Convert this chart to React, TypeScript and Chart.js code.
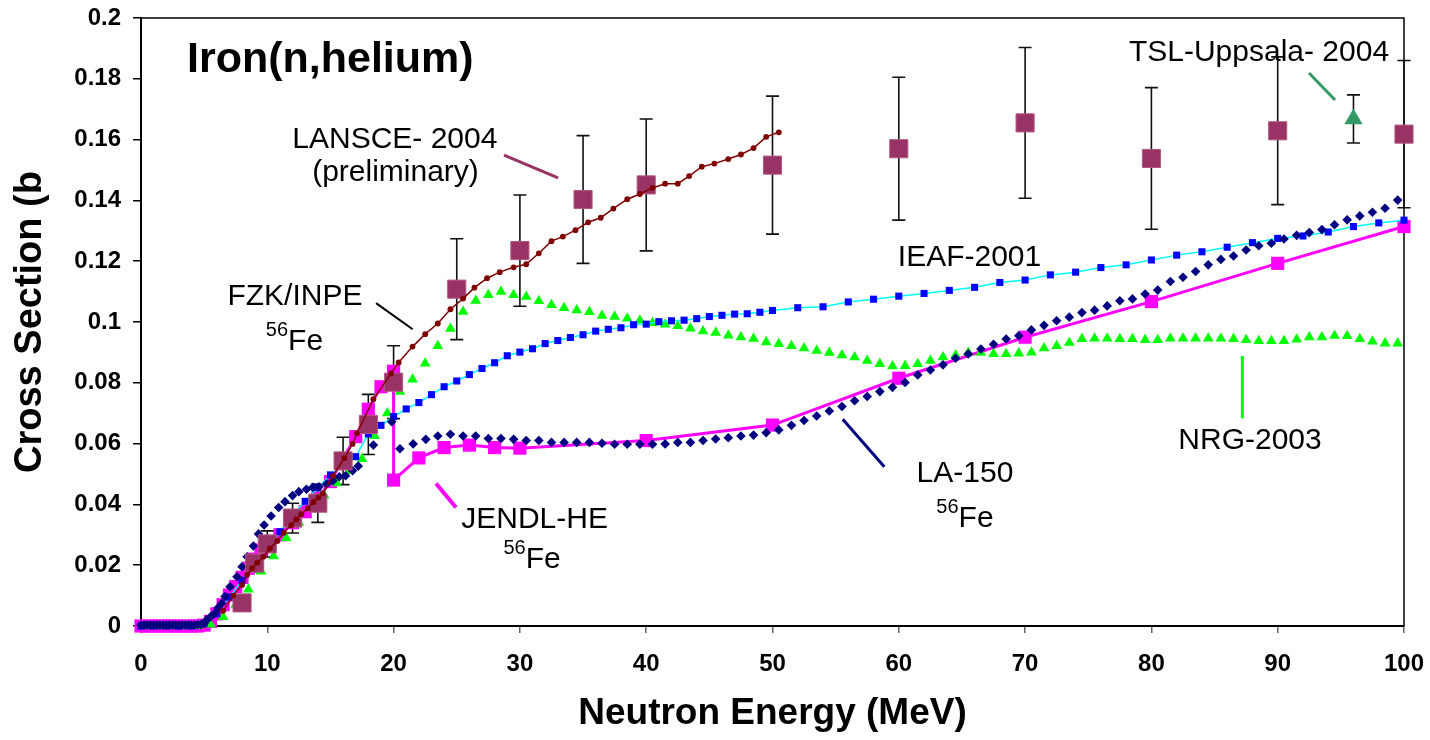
import React, { useEffect, useRef } from 'react';
import { Chart, registerables } from 'chart.js';

Chart.register(...registerables);

const FONT = '"Liberation Sans", Arial, Helvetica, sans-serif';

// ---------- axes ----------
const X_TICKS = [0, 10, 20, 30, 40, 50, 60, 70, 80, 90, 100];
const Y_TICKS = [0, 0.02, 0.04, 0.06, 0.08, 0.1, 0.12, 0.14, 0.16, 0.18, 0.2];
const X_TITLE = 'Neutron Energy (MeV)';
const Y_TITLE = 'Cross Section (b';
const CHART_TITLE = 'Iron(n,helium)';

// ---------- series: [energy MeV, cross section b] ----------
const LA150: [number, number][] = [
  [0, 0.0003], [0.25, 0.0003], [0.5, 0.0003], [0.75, 0.0003], [1, 0.0003], [1.25, 0.0003], [1.5, 0.0003],
  [1.75, 0.0003], [2, 0.0003], [2.25, 0.0003], [2.5, 0.0003], [2.75, 0.0003], [3, 0.0003], [3.25, 0.0003],
  [3.5, 0.0003], [3.75, 0.0003], [4, 0.0003], [4.25, 0.0003], [4.5, 0.0004], [4.75, 0.0005], [5, 0.0008],
  [5.2, 0.002], [5.5, 0.003], [5.85, 0.0042], [6.1, 0.006], [6.4, 0.0075], [6.65, 0.0097], [7.05, 0.0129],
  [7.6, 0.0162], [8.0, 0.0195], [8.4, 0.0228], [8.9, 0.0263], [9.3, 0.0303], [9.75, 0.0332], [10.3, 0.0362],
  [10.9, 0.039], [11.4, 0.0409], [12.0, 0.0429], [12.5, 0.0442], [13.1, 0.045], [13.6, 0.0456], [14.1, 0.0458],
  [14.7, 0.0467], [15.2, 0.0478], [15.7, 0.0491], [16.2, 0.0494], [16.75, 0.0511], [17.2, 0.0526],
  [18.4, 0.0595], [19.85, 0.0672], [20.5, 0.0583], [21.55, 0.0599], [22.55, 0.0614], [23.5, 0.0625],
  [24.5, 0.0631], [25.5, 0.0625], [26.5, 0.0625], [27.5, 0.0617], [28.5, 0.0617], [29.5, 0.0614],
  [30.5, 0.061], [31.5, 0.061], [32.5, 0.0604], [33.5, 0.0604], [34.5, 0.0604], [35.5, 0.0604],
  [36.5, 0.0601], [37.5, 0.0598], [38.5, 0.0598], [39.5, 0.0598], [40.5, 0.0598], [41.5, 0.0599],
  [42.5, 0.0604], [43.5, 0.0604], [44.5, 0.061], [45.5, 0.0615], [46.5, 0.0619], [47.5, 0.0625],
  [48.5, 0.0628], [49.5, 0.0636], [50.5, 0.0645], [51.5, 0.066], [52.5, 0.0676], [53.5, 0.0691],
  [54.5, 0.0707], [55.5, 0.0722], [56.5, 0.0741], [57.5, 0.0755], [58.5, 0.0771], [59.5, 0.0785],
  [60.5, 0.0801], [61.5, 0.0826], [62.5, 0.0842], [63.5, 0.0859], [64.5, 0.0881], [65.5, 0.0895],
  [66.5, 0.0911], [67.5, 0.0927], [68.5, 0.0944], [69.5, 0.0955], [70.5, 0.0974], [71.5, 0.0989],
  [72.5, 0.1004], [73.5, 0.1016], [74.5, 0.1031], [75.5, 0.1039], [76.5, 0.1053], [77.5, 0.107],
  [78.5, 0.1076], [79.5, 0.1092], [80.5, 0.1105], [81.5, 0.1133], [82.5, 0.1147], [83.5, 0.1166],
  [84.5, 0.1188], [85.5, 0.1206], [86.5, 0.1217], [87.5, 0.1237], [88.5, 0.1251], [89.5, 0.1259],
  [90.5, 0.1273], [91.5, 0.1285], [92.5, 0.1294], [93.5, 0.1304], [94.5, 0.132], [95.5, 0.1336],
  [96.5, 0.1349], [97.5, 0.1361], [98.5, 0.1374], [99.5, 0.1401],
];

const JENDL: [number, number][] = [
  [0, 0], [0.5, 0], [1, 0], [1.5, 0], [2, 0], [2.5, 0], [3, 0], [3.5, 0], [4, 0], [4.5, 0], [5, 0.0003],
  [5.5, 0.0015], [6, 0.004], [6.5, 0.007], [7, 0.0102], [7.5, 0.013], [8, 0.016], [8.5, 0.019], [9, 0.022],
  [9.5, 0.025], [10, 0.027], [11, 0.03], [12, 0.034], [13, 0.0376], [14, 0.042], [15, 0.0475], [16, 0.055],
  [17, 0.0623], [18, 0.0713], [19, 0.0787], [20, 0.0838], [20, 0.048], [22, 0.0553], [24, 0.0587],
  [26, 0.0595], [28, 0.0587], [30, 0.0585], [40, 0.061], [50, 0.0661], [60, 0.0815], [70, 0.095],
  [80, 0.1067], [90, 0.1193], [100, 0.1314],
];

const IEAF: [number, number][] = [
  [0, 0], [1, 0], [2, 0], [3, 0], [4, 0], [5, 0.0008], [6, 0.004], [7, 0.0095], [8, 0.015], [9, 0.021],
  [10, 0.026], [11, 0.031], [12, 0.0365], [13, 0.041], [14, 0.0455], [15, 0.0497], [16, 0.0527], [17, 0.0557],
  [18, 0.0632], [19, 0.066], [20, 0.0689], [21, 0.0714], [22, 0.0735], [23, 0.0761], [24, 0.0787],
  [25, 0.0806], [26, 0.0827], [27, 0.0847], [28, 0.0866], [29, 0.0889], [30, 0.0901], [31, 0.0912],
  [32, 0.0929], [33, 0.0939], [34, 0.0949], [35, 0.0958], [36, 0.097], [37, 0.0976], [38, 0.0981],
  [39, 0.0991], [40, 0.0993], [41, 0.1001], [42, 0.1004], [43, 0.1006], [44, 0.1011], [45, 0.1018],
  [46, 0.1022], [47, 0.1026], [48, 0.1027], [49, 0.1032], [50, 0.1038], [52, 0.1047], [54, 0.105],
  [56, 0.1066], [58, 0.1075], [60, 0.1085], [62, 0.1094], [64, 0.1104], [66, 0.1114], [68, 0.113],
  [70, 0.1138], [72, 0.1155], [74, 0.1164], [76, 0.1179], [78, 0.1188], [80, 0.1204], [82, 0.122],
  [84, 0.1231], [86, 0.1246], [88, 0.1261], [90, 0.1275], [92, 0.1283], [94, 0.1296], [96, 0.1314],
  [98, 0.1326], [100, 0.1335],
];

const NRG: [number, number][] = [
  [0.5, 0], [1.5, 0], [2.5, 0], [3.5, 0], [4.5, 0], [5.5, 0.0005], [6.5, 0.003], [7.5, 0.007], [8.5, 0.012],
  [9.5, 0.018], [10.5, 0.023], [11.5, 0.029], [12.5, 0.034], [13.5, 0.039], [14.5, 0.043], [15.5, 0.047],
  [16.5, 0.051], [17.5, 0.055], [18.5, 0.0625], [19.5, 0.07], [20.5, 0.0771], [21.5, 0.0811], [22.5, 0.0864],
  [23.5, 0.0921], [24.5, 0.0978], [25.5, 0.1034], [26.5, 0.107], [27.5, 0.1089], [28.5, 0.11],
  [29.5, 0.1089], [30.5, 0.1083], [31.5, 0.1069], [32.5, 0.1056], [33.5, 0.1046], [34.5, 0.1039],
  [35.5, 0.1033], [36.5, 0.1021], [37.5, 0.1018], [38.5, 0.1012], [39.5, 0.1005], [40.5, 0.0997],
  [41.5, 0.0992], [42.5, 0.0987], [43.5, 0.0979], [44.5, 0.097], [45.5, 0.0965], [46.5, 0.0956],
  [47.5, 0.095], [48.5, 0.0945], [49.5, 0.0934], [50.5, 0.0928], [51.5, 0.0921], [52.5, 0.0914],
  [53.5, 0.0906], [54.5, 0.0899], [55.5, 0.0891], [56.5, 0.0884], [57.5, 0.0873], [58.5, 0.0862],
  [59.5, 0.0855], [60.5, 0.0856], [61.5, 0.0862], [62.5, 0.0873], [63.5, 0.0884], [64.5, 0.0891],
  [65.5, 0.0899], [66.5, 0.0899], [67.5, 0.0895], [68.5, 0.0895], [69.5, 0.0897], [70.5, 0.09],
  [71.5, 0.0914], [72.5, 0.0921], [73.5, 0.0932], [74.5, 0.0944], [75.5, 0.0946], [76.5, 0.0946],
  [77.5, 0.0944], [78.5, 0.0944], [79.5, 0.0941], [80.5, 0.0941], [81.5, 0.0946], [82.5, 0.0946],
  [83.5, 0.0946], [84.5, 0.0946], [85.5, 0.0946], [86.5, 0.0944], [87.5, 0.0941], [88.5, 0.0938],
  [89.5, 0.0938], [90.5, 0.0938], [91.5, 0.0943], [92.5, 0.095], [93.5, 0.095], [94.5, 0.0955],
  [95.5, 0.0954], [96.5, 0.0944], [97.5, 0.0936], [98.5, 0.093], [99.5, 0.093],
];

const FZK: [number, number][] = [
  [6.5, 0.005], [7.3, 0.01], [8.0, 0.0135], [8.4, 0.0168], [8.8, 0.019], [9.2, 0.0208], [9.7, 0.0228],
  [10.2, 0.0255], [10.8, 0.028], [11.3, 0.0307], [11.9, 0.0332], [12.3, 0.0351], [12.7, 0.0368],
  [13.2, 0.0387], [13.65, 0.0407], [14.05, 0.0423], [14.4, 0.0436], [15.2, 0.0494], [16.1, 0.0552],
  [16.75, 0.0599], [17.1, 0.0634], [18.4, 0.0746], [19.8, 0.0831], [20.4, 0.0867], [21.5, 0.0919],
  [22.5, 0.096], [23.5, 0.0995], [24.5, 0.1042], [25.5, 0.1077], [26.4, 0.1113], [27.4, 0.1144],
  [28.4, 0.1164], [29.5, 0.118], [30.5, 0.119], [31.5, 0.1226], [32.5, 0.1266], [33.4, 0.1281],
  [34.4, 0.1302], [35.4, 0.1328], [36.4, 0.1343], [37.4, 0.1373], [38.5, 0.1404], [39.5, 0.1421],
  [40.5, 0.1441], [41.5, 0.1455], [42.5, 0.1455], [43.4, 0.148], [44.4, 0.1511], [45.4, 0.1521],
  [46.5, 0.1536], [47.5, 0.1551], [48.5, 0.1572], [49.5, 0.1609], [50.5, 0.1624],
];

// [energy, cross section, error]
const LANSCE: [number, number, number][] = [
  [8, 0.0076, 0.002], [9, 0.0207, 0.003], [10, 0.027, 0.0043], [12, 0.0355, 0.0049], [14, 0.0404, 0.0063],
  [16, 0.0543, 0.0078], [18, 0.0663, 0.0099], [20, 0.0802, 0.012], [25, 0.1108, 0.0166],
  [30, 0.1235, 0.0183], [35, 0.1403, 0.021], [40, 0.1451, 0.0217], [50, 0.1516, 0.0227],
  [60, 0.157, 0.0235], [70, 0.1655, 0.0248], [80, 0.1538, 0.0233], [90, 0.1629, 0.0243],
  [100, 0.1618, 0.0242],
];

const TSL: [number, number, number][] = [[96, 0.1668, 0.0079]];

// ---------- annotations (data units) ----------
const NOTES = [
  { text: 'LANSCE- 2004', e: 20.1, xs: 0.1605 },
  { text: '(preliminary)', e: 20.15, xs: 0.1496 },
  { text: 'FZK/INPE', e: 12.19, xs: 0.1088 },
  { text: 'IEAF-2001', e: 65.6, xs: 0.1218 },
  { text: 'JENDL-HE', e: 31.16, xs: 0.0355 },
  { text: 'LA-150', e: 65.24, xs: 0.0506 },
  { text: 'NRG-2003', e: 87.81, xs: 0.0616 },
  { text: 'TSL-Uppsala- 2004', e: 88.52, xs: 0.189 },
];
const ISOTOPE_NOTES = [
  { mass: '56', sym: 'Fe', e: 12.15, xs: 0.0943 },
  { mass: '56', sym: 'Fe', e: 30.96, xs: 0.0224 },
  { mass: '56', sym: 'Fe', e: 65.24, xs: 0.036 },
];
const TITLE_POS = { e: 3.64, xs: 0.1872 };
const LEADERS = [
  { e1: 28.74, y1: 0.1549, e2: 33.02, y2: 0.1474, color: '#993366', w: 3 },
  { e1: 18.61, y1: 0.1062, e2: 21.51, y2: 0.0976, color: '#000000', w: 2 },
  { e1: 23.36, y1: 0.0469, e2: 24.94, y2: 0.039, color: '#FF00FF', w: 4 },
  { e1: 55.56, y1: 0.068, e2: 58.85, y2: 0.0524, color: '#000080', w: 3 },
  { e1: 87.2, y1: 0.0888, e2: 87.2, y2: 0.0683, color: '#00FF00', w: 3 },
  { e1: 92.48, y1: 0.1819, e2: 94.54, y2: 0.173, color: '#339966', w: 3 },
];

const NOTE_SIZE = 30;

const toXY = (arr: number[][]) => arr.map((p) => ({ x: p[0], y: p[1] }));

const framePlugin = {
  id: 'frameAndErrors',
  beforeDatasetsDraw(chart: any) {
    const { ctx, chartArea, scales } = chart;
    const x = scales.x;
    const y = scales.y;
    ctx.save();
    ctx.strokeStyle = '#000';
    ctx.lineWidth = 1.5;
    ctx.beginPath();
    ctx.moveTo(chartArea.left, chartArea.top);
    ctx.lineTo(chartArea.right, chartArea.top);
    ctx.lineTo(chartArea.right, chartArea.bottom);
    ctx.stroke();
    // error bars
    ctx.lineWidth = 1.6;
    ctx.strokeStyle = '#111';
    const cap = 6.5;
    for (const [e, v, err] of [...LANSCE, ...TSL]) {
      const px = x.getPixelForValue(e);
      const top = y.getPixelForValue(v + err);
      const bot = y.getPixelForValue(v - err);
      ctx.beginPath();
      ctx.moveTo(px, top);
      ctx.lineTo(px, bot);
      ctx.moveTo(px - cap, top);
      ctx.lineTo(px + cap, top);
      ctx.moveTo(px - cap, bot);
      ctx.lineTo(px + cap, bot);
      ctx.stroke();
    }
    ctx.restore();
  },
  afterDatasetsDraw(chart: any) {
    const { ctx, scales } = chart;
    const x = scales.x;
    const y = scales.y;
    ctx.save();
    // leader lines
    for (const l of LEADERS) {
      ctx.strokeStyle = l.color;
      ctx.lineWidth = l.w;
      ctx.beginPath();
      ctx.moveTo(x.getPixelForValue(l.e1), y.getPixelForValue(l.y1));
      ctx.lineTo(x.getPixelForValue(l.e2), y.getPixelForValue(l.y2));
      ctx.stroke();
    }
    ctx.fillStyle = '#000';
    ctx.textBaseline = 'alphabetic';
    // title
    ctx.font = `bold 43px ${FONT}`;
    ctx.textAlign = 'left';
    ctx.fillText(CHART_TITLE, x.getPixelForValue(TITLE_POS.e), y.getPixelForValue(TITLE_POS.xs) + 0.358 * 42);
    // notes
    ctx.font = `${NOTE_SIZE}px ${FONT}`;
    ctx.textAlign = 'center';
    for (const n of NOTES) {
      ctx.fillText(n.text, x.getPixelForValue(n.e), y.getPixelForValue(n.xs) + 0.358 * 28);
    }
    // isotope labels with superscript
    ctx.textAlign = 'left';
    for (const n of ISOTOPE_NOTES) {
      const supSize = 20;
      ctx.font = `${supSize}px ${FONT}`;
      const wSup = ctx.measureText(n.mass).width;
      ctx.font = `${NOTE_SIZE}px ${FONT}`;
      const wSym = ctx.measureText(n.sym).width;
      const cx = x.getPixelForValue(n.e);
      const base = y.getPixelForValue(n.xs) + 0.358 * 29;
      const left = cx - (wSup + wSym) / 2;
      ctx.font = `${supSize}px ${FONT}`;
      ctx.fillText(n.mass, left, base - 14);
      ctx.font = `${NOTE_SIZE}px ${FONT}`;
      ctx.fillText(n.sym, left + wSup, base);
    }
    ctx.restore();
  },
};

const zeroPad = (axis: any) => {
  axis.paddingTop = 0;
  axis.paddingBottom = 0;
  axis.paddingLeft = 0;
  axis.paddingRight = 0;
};

export default function App() {
  const ref = useRef<HTMLCanvasElement>(null);

  useEffect(() => {
    if (!ref.current) return;
    Chart.defaults.font.family = FONT;
    const chart = new Chart(ref.current, {
      type: 'scatter',
      data: {
        datasets: [
          {
            label: 'TSL-Uppsala- 2004',
            data: toXY(TSL),
            pointStyle: 'triangle',
            pointRadius: 10.5,
            backgroundColor: '#339966',
            borderColor: '#339966',
            borderWidth: 0,
            showLine: false,
            order: 0,
            clip: false,
          } as any,
          {
            label: 'FZK/INPE',
            data: toXY(FZK),
            pointStyle: 'circle',
            pointRadius: 2.9,
            pointBackgroundColor: '#800000',
            pointBorderColor: '#800000',
            pointBorderWidth: 0,
            borderColor: '#800000',
            borderWidth: 1.5,
            showLine: true,
            order: 1,
            clip: false,
          },
          {
            label: 'LANSCE- 2004',
            data: toXY(LANSCE),
            pointStyle: 'rect',
            pointRadius: 12.8,
            backgroundColor: '#993366',
            borderColor: '#b0587f',
            borderWidth: 1,
            showLine: false,
            order: 2,
            clip: false,
          },
          {
            label: 'LA-150',
            data: toXY(LA150),
            pointStyle: 'rectRot',
            pointRadius: 4.8,
            backgroundColor: '#000080',
            borderColor: '#000080',
            borderWidth: 0,
            showLine: false,
            order: 3,
            clip: false,
          },
          {
            label: 'IEAF-2001',
            data: toXY(IEAF),
            pointStyle: 'rect',
            pointRadius: 5,
            pointBackgroundColor: '#0000FF',
            pointBorderColor: '#0000FF',
            pointBorderWidth: 0,
            borderColor: '#00FFFF',
            borderWidth: 1.5,
            showLine: true,
            order: 4,
            clip: false,
          },
          {
            label: 'NRG-2003',
            data: toXY(NRG),
            pointStyle: 'triangle',
            pointRadius: 6.2,
            backgroundColor: '#00FF00',
            borderColor: '#00FF00',
            borderWidth: 0,
            showLine: false,
            order: 5,
            clip: false,
          },
          {
            label: 'JENDL-HE',
            data: toXY(JENDL),
            pointStyle: 'rect',
            pointRadius: 9.3,
            pointBackgroundColor: '#FF00FF',
            pointBorderColor: '#FF00FF',
            pointBorderWidth: 0,
            borderColor: '#FF00FF',
            borderWidth: 3,
            showLine: true,
            order: 6,
            clip: false,
          },
        ],
      },
      options: {
        animation: false,
        responsive: true,
        maintainAspectRatio: false,
        layout: { padding: { top: 18, right: 26, left: 0, bottom: 0 } },
        plugins: {
          legend: { display: false },
          tooltip: { enabled: false },
        },
        scales: {
          x: {
            type: 'linear',
            position: 'bottom',
            min: 0,
            max: 100,
            afterBuildTicks: (axis: any) => {
              axis.ticks = X_TICKS.map((v) => ({ value: v }));
            },
            afterFit: (axis: any) => {
              axis.height = 114;
              zeroPad(axis);
            },
            ticks: {
              autoSkip: false,
              maxRotation: 0,
              padding: 17,
              color: '#000',
              font: { family: FONT, size: 24, weight: 'bold' },
              callback: (v: any) => String(v),
            },
            grid: {
              display: true,
              drawOnChartArea: false,
              drawTicks: true,
              tickLength: 7,
              color: '#666',
              lineWidth: 1.5,
            },
            border: { display: true, color: '#000', width: 2 },
            title: {
              display: true,
              text: X_TITLE,
              color: '#000',
              font: { family: FONT, size: 37, weight: 'bold' },
              padding: { top: 0, bottom: 4 },
            },
          },
          y: {
            type: 'linear',
            position: 'left',
            min: 0,
            max: 0.2,
            afterBuildTicks: (axis: any) => {
              axis.ticks = Y_TICKS.map((v) => ({ value: v }));
            },
            afterFit: (axis: any) => {
              axis.width = 141;
              zeroPad(axis);
            },
            ticks: {
              autoSkip: false,
              padding: 12,
              color: '#000',
              font: { family: FONT, size: 24, weight: 'bold' },
              callback: (v: any) => String(Number(Number(v).toFixed(3))),
            },
            grid: {
              display: true,
              drawOnChartArea: false,
              drawTicks: true,
              tickLength: 8,
              color: '#000',
              lineWidth: 1.5,
            },
            border: { display: true, color: '#000', width: 2 },
            title: {
              display: true,
              text: Y_TITLE,
              color: '#000',
              font: { family: FONT, size: 38, weight: 'bold' },
              padding: { top: 8, bottom: 0 },
            },
          },
        },
      },
      plugins: [framePlugin],
    } as any);
    return () => chart.destroy();
  }, []);

  return (
    <div style={{ position: 'fixed', left: 0, top: 0, width: 1430, height: 740, background: '#fff' }}>
      <canvas ref={ref} />
    </div>
  );
}
